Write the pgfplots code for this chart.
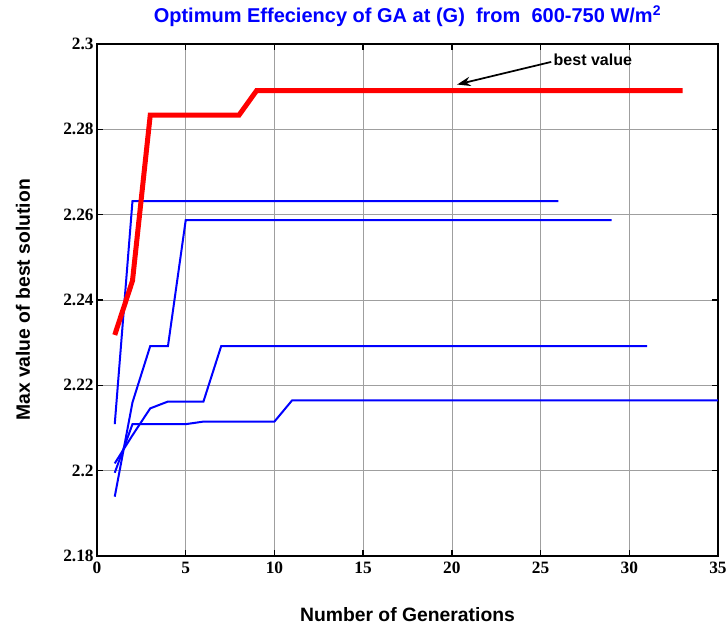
\documentclass[border=0pt]{standalone}
\usepackage{fontspec}
\setmainfont{Liberation Sans}
\newfontfamily\tickfont{Liberation Serif}
\usepackage{pgfplots}
\pgfplotsset{compat=1.18}
\usetikzlibrary{arrows.meta}
\definecolor{mblue}{RGB}{0,0,255}
\begin{document}
\begin{tikzpicture}[x=1pt,y=1pt]
\begin{axis}[
  scale only axis=true,
  width=465.75pt, height=384pt,
  xmin=0, xmax=35, ymin=2.18, ymax=2.3,
  xtick={0,5,...,35},
  ytick={2.18,2.2,2.22,2.24,2.26,2.28,2.3},
  yticklabels={2.18,2.2,2.22,2.24,2.26,2.28,2.3},
  /pgf/number format/assume math mode=true,
  tick label style={font=\tickfont\bfseries\fontsize{13}{15}\selectfont},
  xticklabel style={yshift=-1pt},
  yticklabel style={xshift=1pt},
  tick align=inside, tick pos=both,
  major tick length=4.5pt,
  every tick/.style={black, line width=1pt},
  axis line style={line width=1.6pt},
  grid=major,
  major grid style={gray!75, line width=0.5pt},
  title={Optimum Effeciency of GA at (G)\ \ from\ \ 600-750 W/m$^{\mathbf{2}}$},
  title style={font=\bfseries\fontsize{15}{17}\selectfont, text=mblue, at={(axis description cs:0.5,1.026)}, anchor=base},
  xlabel={Number of Generations},
  ylabel={Max value of best solution},
  label style={font=\bfseries\fontsize{14.5}{17}\selectfont},
  xlabel style={at={(axis description cs:0.5,-0.128)}, anchor=base},
  ylabel style={at={(axis description cs:-0.108,0.5)}, anchor=base},
]
\addplot[mblue, line width=1.5pt] coordinates {(1,2.2109) (2,2.2632) (26,2.2632)};
\addplot[mblue, line width=1.5pt] coordinates {(1,2.1939) (2,2.2160) (3,2.2292) (4,2.2292) (5,2.2587) (29,2.2587)};
\addplot[mblue, line width=1.5pt] coordinates {(1,2.2017) (2,2.2083) (3,2.2146) (4,2.2162) (6,2.2162) (7,2.2292) (31,2.2292)};
\addplot[mblue, line width=1.5pt] coordinates {(1,2.1995) (2,2.2109) (5,2.2109) (6,2.2115) (10,2.2115) (11,2.2165) (35,2.2165)};
\addplot[red, line width=3.75pt] coordinates {(1,2.2318) (2,2.2445) (3,2.2833) (8,2.2833) (9,2.2891) (33,2.2891)};
\draw[-{Stealth[length=10pt,width=7pt]}, line width=1.3pt] (axis cs:25.6,2.2958) -- (axis cs:20.3,2.2905);
\node[anchor=west, font=\bfseries\fontsize{12}{14}\selectfont, inner sep=1pt] at (axis cs:25.65,2.2962) {best value};
\end{axis}
\pgfresetboundingbox
\path (-72.75pt,-54pt) rectangle (471.75pt,417pt);
\end{tikzpicture}
\end{document}
